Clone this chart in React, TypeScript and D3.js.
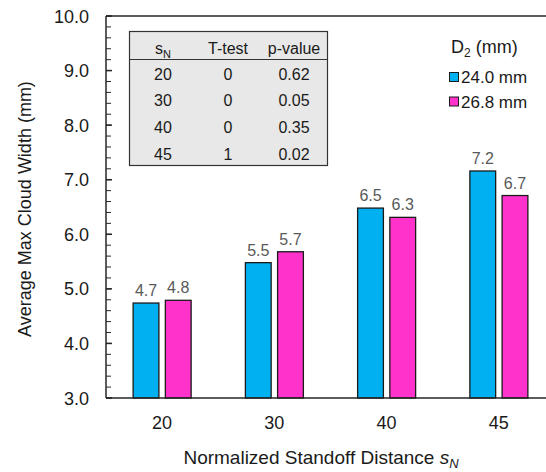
import React from "react";
import * as d3 from "d3";

const categories = ["20", "30", "40", "45"];
const seriesNames = ["24.0 mm", "26.8 mm"];
const series1 = [4.74, 5.48, 6.48, 7.16];
const series2 = [4.79, 5.68, 6.31, 6.71];
const colors = ["#00B0F0", "#FF33CC"];
const yTicks = [3, 4, 5, 6, 7, 8, 9, 10];
const tableHeader = ["T-test", "p-value"];
const tableSN = ["20", "30", "40", "45"];
const tableT = ["0", "0", "0", "1"];
const tableP = ["0.62", "0.05", "0.35", "0.02"];

const W = 546;
const H = 472;
const FONT = "'Liberation Sans', Arial, Helvetica, sans-serif";

export default function App() {
  const left = 106;
  const top = 16;
  const bottom = 398;
  const right = 555;

  const x = d3.scaleBand<string>().domain(categories).range([left, right]).padding(0);
  const inner = d3.scaleBand<string>().domain(["0", "1"]).range([-29, 29]).paddingInner(0.2);
  const y = d3.scaleLinear().domain([3, 10]).range([bottom, top]);
  const minor = d3.range(3, 10.0001, 0.2);

  const data = [series1, series2];
  const axisColor = "#262626";

  // table geometry
  const tX0 = 129.5, tX1 = 327.5, tY0 = 31.5, tY1 = 165.5, tHead = 59.5;
  const colX = [163, 228, 294];
  const rowY = [48, 73.5, 99.5, 126.5, 153.5];

  return (
    <svg width={W} height={H} style={{ display: "block", position: "absolute", left: 0, top: 0 }} fontFamily={FONT}>
      <rect x={0} y={0} width={W} height={H} fill="#fff" />
      {/* bars */}
      {data.map((vals, si) =>
        vals.map((v, ci) => {
          const cx = x(categories[ci])! + x.bandwidth() / 2;
          const bx = cx + inner(String(si))!;
          const by = y(v);
          return (
            <g key={`b${si}-${ci}`}>
              <rect x={bx} y={by} width={inner.bandwidth()} height={bottom - by} fill={colors[si]} stroke="#1a1a1a" strokeWidth={1.3} />
              <text x={bx + inner.bandwidth() / 2} y={by - 7} textAnchor="middle" fontSize={16} fill="#595959">
                {v.toFixed(1)}
              </text>
            </g>
          );
        })
      )}
      {/* frame */}
      <line x1={left} x2={W} y1={top} y2={top} stroke={axisColor} strokeWidth={1.3} />
      <line x1={left} x2={left} y1={top} y2={bottom} stroke={axisColor} strokeWidth={1.5} />
      <line x1={left} x2={W} y1={bottom} y2={bottom} stroke={axisColor} strokeWidth={1.5} />
      {/* y ticks */}
      {minor.map((t, i) => (
        <line key={`m${i}`} x1={left} x2={left + 5} y1={y(t)} y2={y(t)} stroke={axisColor} strokeWidth={1} />
      ))}
      {yTicks.map((t) => (
        <g key={`y${t}`}>
          <line x1={left} x2={left + 6} y1={y(t)} y2={y(t)} stroke={axisColor} strokeWidth={1.5} />
          <text x={89} y={y(t) + 6.5} textAnchor="end" fontSize={18} fill="#1a1a1a">
            {t.toFixed(1)}
          </text>
        </g>
      ))}
      {/* x labels */}
      {categories.map((c) => (
        <text key={`x${c}`} x={x(c)! + x.bandwidth() / 2} y={429} textAnchor="middle" fontSize={18} fill="#1a1a1a">
          {c}
        </text>
      ))}
      {/* axis titles */}
      <text x={321} y={464} textAnchor="middle" fontSize={19} fill="#1a1a1a">
        Normalized Standoff Distance <tspan fontStyle="italic">s</tspan>
        <tspan fontStyle="italic" fontSize={13} dy={4}>N</tspan>
      </text>
      <text transform={`translate(31, 209) rotate(-90)`} textAnchor="middle" fontSize={18} fill="#1a1a1a">
        Average Max Cloud Width (mm)
      </text>
      {/* table */}
      <rect x={tX0} y={tY0} width={tX1 - tX0} height={tY1 - tY0} fill="#E8E8E8" stroke="#333" strokeWidth={1.2} />
      <line x1={tX0} x2={tX1} y1={tHead} y2={tHead} stroke="#333" strokeWidth={1.2} />
      <text x={colX[0]} y={rowY[0] + 6} textAnchor="middle" fontSize={16} fill="#1a1a1a">
        s<tspan fontSize={11} dy={4}>N</tspan>
      </text>
      {tableHeader.map((h, i) => (
        <text key={h} x={colX[i + 1]} y={rowY[0] + 6} textAnchor="middle" fontSize={16} fill="#1a1a1a">
          {h}
        </text>
      ))}
      {tableSN.map((s, i) => (
        <g key={`r${i}`}>
          <text x={colX[0]} y={rowY[i + 1] + 6} textAnchor="middle" fontSize={16} fill="#1a1a1a">{s}</text>
          <text x={colX[1]} y={rowY[i + 1] + 6} textAnchor="middle" fontSize={16} fill="#1a1a1a">{tableT[i]}</text>
          <text x={colX[2]} y={rowY[i + 1] + 6} textAnchor="middle" fontSize={16} fill="#1a1a1a">{tableP[i]}</text>
        </g>
      ))}
      {/* legend */}
      <text x={451} y={53} fontSize={18} fill="#1a1a1a">
        D<tspan fontSize={12} dy={4}>2</tspan>
        <tspan dy={-4}> (mm)</tspan>
      </text>
      {seriesNames.map((n, i) => (
        <g key={n}>
          <rect x={449.5} y={[77, 101.5][i] - 4.5} width={9} height={9} fill={colors[i]} stroke="#1a1a1a" strokeWidth={1} />
          <text x={461} y={[77, 101.5][i] + 6} fontSize={17} fill="#1a1a1a">{n}</text>
        </g>
      ))}
    </svg>
  );
}
